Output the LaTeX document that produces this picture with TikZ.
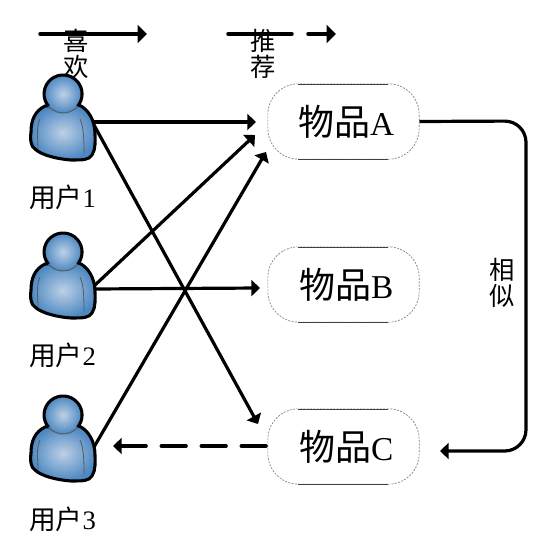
\documentclass[tikz,border=0pt]{standalone}
\usepackage{fontspec}
\setmainfont{Liberation Serif}
\newfontfamily\cjk{Noto Sans CJK SC}
\usetikzlibrary{arrows.meta}
\definecolor{userin}{RGB}{190,208,230}
\definecolor{userout}{RGB}{76,136,194}
\newcommand{\itemname}[1]{\hspace*{4pt}{\cjk\fontsize{27}{29}\selectfont 物品}{\fontsize{25}{29}\selectfont #1}}
\newcommand{\username}[1]{{\cjk 用户}#1}
\tikzset{
  x=0.75pt,y=-0.75pt,
  flow/.style={line width=2.4pt,-{Triangle[length=6.5pt,width=12pt]},line join=round},
  key/.style={line width=2.6pt,-{Triangle[length=7pt,width=13.5pt]},line cap=round},
  item/.style={minimum width=113.5pt,minimum height=56.5pt,rounded corners=23pt,draw=gray,line width=0.5pt,dash pattern=on 1.5pt off 1pt,inner sep=0pt},
  itemedge/.style={draw=black!75,line width=0.5pt},
  word/.style={inner sep=0pt,align=center,font=\cjk\fontsize{19}{20}\selectfont},
  uname/.style={inner sep=0pt,anchor=west,font=\fontsize{20}{22}\selectfont},
  pics/person/.style={code={
    \shade[inner color=userin,outer color=userout,draw=black,line width=2.3pt,line join=round]
      (-18,12) .. controls (-28,17) and (-32,26) .. (-32,38)
      .. controls (-33,46) and (-32,53) .. (-28,55)
      .. controls (-22,61) and (-6,65) .. (8,66)
      .. controls (20,66) and (26,66) .. (29,61)
      .. controls (33,55) and (32,46) .. (32,40)
      .. controls (32,26) and (25,15) .. (16,11) -- cycle;
    \draw[black!65,line width=0.6pt] (-23,25) .. controls (-27,33) and (-25,46) .. (-25,55);
    \draw[black!65,line width=0.6pt] (17,25) .. controls (21,33) and (21,48) .. (21,59);
    \shade[inner color=userin,outer color=userout] (0,0) circle (19);
    \draw[black,line width=2.3pt] (-14.5,12.2) arc[start angle=140,end angle=400,radius=19];
    \draw[black!65,line width=0.7pt] (-14.5,12.2) arc[start angle=140,end angle=40,radius=19];
  }}
}
\begin{document}
\begin{tikzpicture}
\useasboundingbox (0,0) rectangle (558,546);
% users
\pic at (63,94) {person};
\pic at (63,252) {person};
\pic at (63,415) {person};
\node[uname] (n1) at (29,197) {\username{1}};
\node[uname] (n2) at (29,355) {\username{2}};
\node[uname] (n3) at (29,519) {\username{3}};
% items
\node[item] (A) at (343.5,121.5) {\itemname{A}};
\node[item] (B) at (343.5,284.5) {\itemname{B}};
\node[item] (C) at (343.5,446.5) {\itemname{C}};
\draw[itemedge] (298,84) -- (388,84) (298,159) -- (388,159);
\draw[itemedge] (298,247) -- (388,247) (298,322) -- (388,322);
\draw[itemedge] (298,409) -- (388,409) (298,484) -- (388,484);
% connector ends
\coordinate (u1a) at (94,122);
\coordinate (u1c) at (94,125);
\coordinate (u2a) at (94,286);
\coordinate (u2b) at (94,289);
\coordinate (u3a) at (94,447);
\coordinate (u3in) at (113,446);
\coordinate (Aa) at (256,122);
\coordinate (Ab) at (255,135);
\coordinate (Ac) at (266,152);
\coordinate (Bin) at (260,288);
\coordinate (Cin) at (258,424);
\coordinate (Cout) at (266,446);
\coordinate (Cright) at (440,451);
\coordinate (ka) at (40,34);
\coordinate (kb) at (147,34);
\coordinate (kc) at (228,34);
\coordinate (kd) at (336,34);
\draw[flow] (u1a) -- (Aa);
\draw[flow] (u1c) -- (Cin);
\draw[flow] (u2a) -- (Ab);
\draw[flow] (u2b) -- (Bin);
\draw[flow] (u3a) -- (Ac);
\draw[flow,rounded corners=16pt] (A.east) -- (526,121) -- (526,451) -- (Cright);
\draw[flow,line width=2.7pt,dash pattern=on 18.5pt off 11.5pt,line cap=round] (Cout) -- (u3in);
\draw[key] (ka) -- (kb);
\draw[key,dash pattern=on 48pt off 12pt] (kc) -- (kd);
% labels
\node[word] (like) at (76.5,54) {喜\\欢};
\node[word] (rec) at (263,54) {推\\荐};
\node[word] (sim) at (502,283) {相\\似};
\end{tikzpicture}
\end{document}
